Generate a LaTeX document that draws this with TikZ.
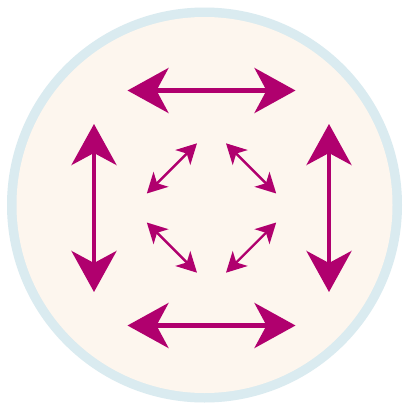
\documentclass[tikz,border=0pt]{standalone}
\usetikzlibrary{arrows.meta,calc}
\definecolor{cellmagenta}{RGB}{176,0,110}
\definecolor{cellcream}{RGB}{253,246,238}
\definecolor{cellring}{RGB}{218,235,240}
\begin{document}
\begin{tikzpicture}[x=1pt,y=-1pt,line cap=round,line join=round,
  bigarrow/.style={draw=cellmagenta,line width=4.5pt,
    {Stealth[length=41pt,width=45pt,inset=12pt]}-{Stealth[length=41pt,width=45pt,inset=12pt]}},
  smallarrow/.style={draw=cellmagenta,line width=2.4pt,
    {Stealth[length=20pt,width=21pt,inset=5.5pt]}-{Stealth[length=20pt,width=21pt,inset=5.5pt]}}]
  \useasboundingbox[fill=white] (0,0) rectangle (409,415);
  % cell
  \coordinate (cell) at (204.5,205);
  \fill[cellring] (cell) circle (197.5);
  \fill[cellcream] (cell) circle (188);
  % outer arrows
  \coordinate (mid) at (211.5,208);
  \def\d{117.5}
  \def\h{84}
  \coordinate (topL) at ($(mid)+(-\h,-\d)$);
  \coordinate (topR) at ($(mid)+(\h,-\d)$);
  \coordinate (botL) at ($(mid)+(-\h,\d)$);
  \coordinate (botR) at ($(mid)+(\h,\d)$);
  \coordinate (lftT) at ($(mid)+(-\d,-\h)$);
  \coordinate (lftB) at ($(mid)+(-\d,\h)$);
  \coordinate (rgtT) at ($(mid)+(\d,-\h)$);
  \coordinate (rgtB) at ($(mid)+(\d,\h)$);
  \draw[bigarrow] (topL) -- (topR);
  \draw[bigarrow] (botL) -- (botR);
  \draw[bigarrow] (lftT) -- (lftB);
  \draw[bigarrow] (rgtT) -- (rgtB);
  % inner arrows
  \foreach \a/\n in {45/a,135/b,225/c,315/d} {
    \coordinate (in\n1) at ($(mid)+(\a:56)+(\a+90:35.5)$);
    \coordinate (in\n2) at ($(mid)+(\a:56)+(\a-90:35.5)$);
    \draw[smallarrow] (in\n1) -- (in\n2);
  }
\end{tikzpicture}
\end{document}
